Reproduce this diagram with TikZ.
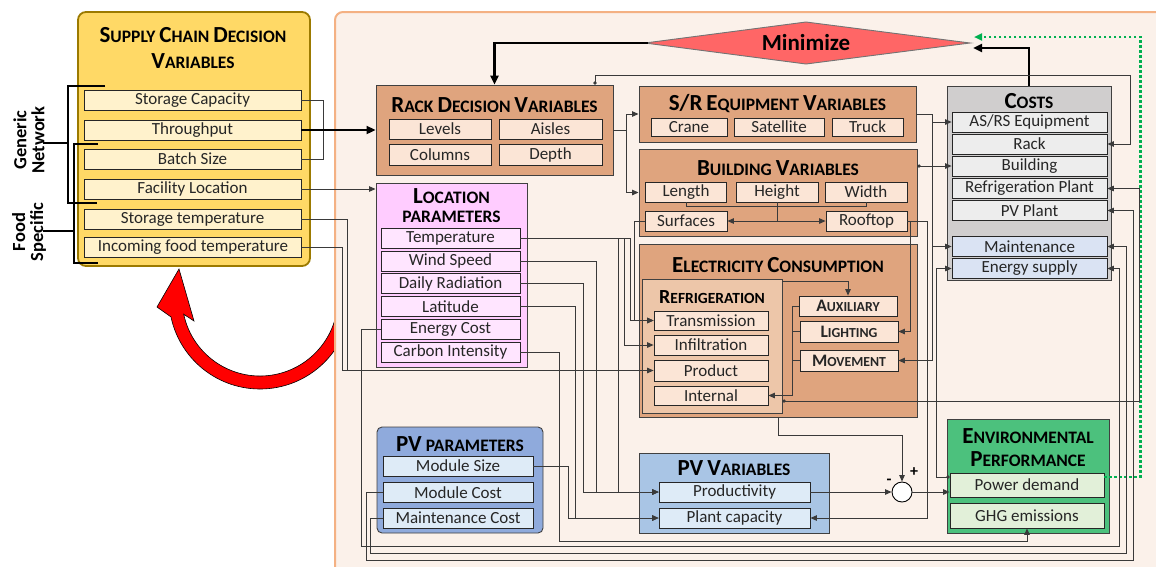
\documentclass[tikz,border=0pt]{standalone}
\usepackage{fontspec}
\setmainfont{Carlito}
\usetikzlibrary{arrows.meta,calc}

\definecolor{scfill}{HTML}{FFD966}
\definecolor{scedge}{HTML}{9C7A00}
\definecolor{scitemfill}{HTML}{FFF2CC}
\definecolor{panelfill}{HTML}{FBF1EA}
\definecolor{paneledge}{HTML}{F4B183}
\definecolor{tanfill}{HTML}{DFA47E}
\definecolor{tanlight}{HTML}{EDC6A9}
\definecolor{tanitem}{HTML}{FBE5D6}
\definecolor{costfill}{HTML}{D0CECE}
\definecolor{costitem}{HTML}{EDEDED}
\definecolor{blueitem}{HTML}{DAE3F3}
\definecolor{locfill}{HTML}{FFCCFF}
\definecolor{locitem}{HTML}{FFE5FF}
\definecolor{pvpfill}{HTML}{8FAADC}
\definecolor{pvvfill}{HTML}{A9C5E5}
\definecolor{pvitem}{HTML}{DEEBF7}
\definecolor{envfill}{HTML}{4CC17D}
\definecolor{envitem}{HTML}{E2F0D9}
\definecolor{minfill}{HTML}{FF6666}
\definecolor{dotgreen}{HTML}{00B050}
\definecolor{linegray}{HTML}{3A3A3A}

% faked small capitals: large initial, smaller remainder
\newcommand\Tsc[2]{{\fontsize{23}{23}\selectfont #1}{\fontsize{17.5}{17.5}\selectfont #2}}
\newcommand\tscS[2]{{\fontsize{20}{20}\selectfont #1}{\fontsize{15.5}{15.5}\selectfont #2}}
\newcommand\tscX[2]{{\fontsize{17.5}{17.5}\selectfont #1}{\fontsize{13.8}{13.8}\selectfont #2}}

\tikzset{
  box/.style={draw=black!75, line width=0.9pt, inner sep=0pt},
  item/.style={draw=black!85, line width=0.8pt, inner sep=0pt, minimum height=20pt,
    text=black!85, font=\fontsize{17}{17}\selectfont},
  scitem/.style={item, fill=scitemfill, minimum width=217pt},
  titem/.style={item, fill=tanitem},
  citem/.style={item, fill=costitem, minimum width=155pt},
  litem/.style={item, fill=locitem, minimum width=139pt},
  pitem/.style={item, fill=pvitem, minimum width=150pt},
  eitem/.style={item, fill=envitem, minimum width=154pt},
  ttl/.style={font=\bfseries\fontsize{17.5}{17.5}\selectfont, text=black, inner sep=0pt},
  conn/.style={draw=linegray, line width=1pt},
  tip/.style={-{Triangle[length=6.5pt,width=5.5pt]}},
  dottip/.style={{Circle[length=3.2pt]}-{Triangle[length=6.5pt,width=5.5pt]}},
  heavy/.style={draw=black, line width=2.6pt, -{Triangle[length=9pt,width=8pt]}},
  brk/.style={draw=black, line width=1.3pt},
}

\begin{document}
\begin{tikzpicture}[x=1pt,y=-1pt]
\useasboundingbox (0,0) rectangle (1156,566);
\clip (0,0) rectangle (1156,566);

% curved red arrow looping back to the supply chain block
\filldraw[fill=red, draw=black, line width=0.6pt]
  ($(260,298)+(-5:91)$) arc[start angle=-5, end angle=168, radius=91]
  -- (157,307) -- (179,269) -- (194,321)
  -- ($(260,298)+(168:78)$) arc[start angle=168, end angle=-5, radius=78] -- cycle;

% main panel
\draw[fill=panelfill, draw=paneledge, line width=2pt, rounded corners=8pt] (335,12) rectangle (1190,600);

% ---------- supply chain decision variables ----------
\node[box, draw=scedge, fill=scfill, line width=1.8pt, rounded corners=8pt,
      minimum width=232pt, minimum height=254pt] (sc) at (194,139) {};
\node[ttl] at (193,35) {\Tsc{S}{UPPLY} \Tsc{C}{HAIN} \Tsc{D}{ECISION}};
\node[ttl] at (193,61) {\Tsc{V}{ARIABLES}};
\node[scitem] (scap) at (192.5,100) {Storage Capacity};
\node[scitem] (thr)  at (192.5,130) {Throughput};
\node[scitem] (bat)  at (192.5,159) {Batch Size};
\node[scitem] (fac)  at (192.5,189) {Facility Location};
\node[scitem] (stt)  at (192.5,219) {Storage temperature};
\node[scitem] (inc)  at (193,247) {Incoming food temperature};

% group brackets
\draw[brk] (105,86) -- (68,86) -- (68,203) -- (97,203);
\draw[brk] (43,143) -- (68,143);
\draw[brk] (98,144) -- (74,144) -- (74,263) -- (98,263);
\draw[brk] (43,231) -- (74,231);
\node[rotate=90, align=center, font=\bfseries\fontsize{18.5}{18}\selectfont] at (29,140) {Generic\\Network};
\node[rotate=90, align=center, font=\bfseries\fontsize{18.5}{18}\selectfont] at (29,232) {Food\\Specific};

% ---------- objective ----------
\filldraw[fill=minfill, draw=black!55, line width=0.9pt] (645,43) -- (806,22) -- (970,43) -- (806,64) -- cycle;
\node[ttl, font=\bfseries\fontsize{23}{23}\selectfont] (minz) at (806,43) {Minimize};
\coordinate (mL) at (648,43);
\coordinate (mR) at (973,48);
\coordinate (mG) at (974,37);

% ---------- rack decision variables ----------
\node[box, fill=tanfill, minimum width=237pt, minimum height=90pt] (rack) at (494.5,130) {};
\node[ttl] at (494.5,105) {\Tsc{R}{ACK} \Tsc{D}{ECISION} \Tsc{V}{ARIABLES}};
\node[titem, minimum width=102pt] (lev) at (440,129) {Levels};
\node[titem, minimum width=103pt] (ais) at (550.5,129) {Aisles};
\node[titem, minimum width=102pt, minimum height=21pt] (col) at (440,154.5) {Columns};
\node[titem, minimum width=103pt, minimum height=21pt] (dep) at (550.5,154.5) {Depth};

% ---------- S/R equipment ----------
\node[box, fill=tanfill, minimum width=277pt, minimum height=56pt] (sr) at (777.5,114) {};
\node[ttl] at (777.5,104) {\Tsc{S/R}{} \Tsc{E}{QUIPMENT} \Tsc{V}{ARIABLES}};
\node[titem, minimum width=76pt, minimum height=18pt] (crane) at (689,127) {Crane};
\node[titem, minimum width=90pt, minimum height=18pt] (sat) at (779,127) {Satellite};
\node[titem, minimum width=71pt, minimum height=18pt] (truck) at (867.5,127) {Truck};

% ---------- building ----------
\node[box, fill=tanfill, minimum width=278pt, minimum height=87pt] (bld) at (778,192.5) {};
\node[ttl] at (778,168) {\Tsc{B}{UILDING} \Tsc{V}{ARIABLES}};
\node[titem, minimum width=81pt] (len) at (686,192) {Length};
\node[titem, minimum width=82pt] (hgt) at (777,192) {Height};
\node[titem, minimum width=82pt] (wid) at (866,192) {Width};
\node[titem, minimum width=82pt] (surf) at (686,221) {Surfaces};
\node[titem, minimum width=81pt] (roof) at (866.5,221) {Rooftop};

% ---------- electricity consumption ----------
\node[box, fill=tanfill, minimum width=278pt, minimum height=173pt] (elec) at (778,330.5) {};
\node[ttl] at (778,265) {\Tsc{E}{LECTRICITY} \Tsc{C}{ONSUMPTION}};
\node[box, fill=tanlight, minimum width=140pt, minimum height=134pt] (refr) at (712,346) {};
\node[ttl] at (712,297) {\tscS{R}{EFRIGERATION}};
\node[titem, minimum width=114pt, minimum height=19pt] (trans) at (711,320.5) {Transmission};
\node[titem, minimum width=114pt] (infl) at (711,345) {Infiltration};
\node[titem, minimum width=114pt, minimum height=21pt] (prod) at (711,370.5) {Product};
\node[titem, minimum width=114pt, minimum height=19pt] (intl) at (711,395.5) {Internal};
\node[titem, minimum width=98pt] (aux) at (848,306) {\bfseries\tscX{A}{UXILIARY}};
\node[titem, minimum width=98pt, minimum height=21pt] (light) at (849,331.5) {\bfseries\tscX{L}{IGHTING}};
\node[titem, minimum width=98pt, minimum height=21pt] (move) at (849,360.5) {\bfseries\tscX{M}{OVEMENT}};

% ---------- costs ----------
\node[box, fill=costfill, minimum width=164pt, minimum height=194pt] (costs) at (1029,183) {};
\node[ttl] at (1029,101) {\Tsc{C}{OSTS}};
\node[citem] (asrs)  at (1029.5,122) {AS/RS Equipment};
\node[citem] (rackc) at (1029.5,144) {Rack};
\node[citem] (bldc)  at (1029.5,166) {Building};
\node[citem] (refp)  at (1029.5,188.5) {Refrigeration Plant};
\node[citem] (pvp)   at (1029.5,210.5) {PV Plant};
\node[citem, fill=blueitem] (maint) at (1029.5,246.5) {Maintenance};
\node[citem, fill=blueitem] (esup)  at (1029.5,268.5) {Energy supply};

% ---------- location parameters ----------
\node[box, fill=locfill, minimum width=151pt, minimum height=184pt] (loc) at (451.5,275) {};
\node[ttl] at (451.5,196) {\Tsc{L}{OCATION}};
\node[ttl] at (451.5,217) {\Tsc{}{PARAMETERS}};
\node[litem] (temp)  at (450.5,238) {Temperature};
\node[litem] (wind)  at (450.5,261) {Wind Speed};
\node[litem] (rad)   at (450.5,283.5) {Daily Radiation};
\node[litem] (lat)   at (450.5,306.5) {Latitude};
\node[litem] (ecost) at (450.5,329) {Energy Cost};
\node[litem] (ci)    at (450.5,352) {Carbon Intensity};

% ---------- PV parameters ----------
\node[box, fill=pvpfill, rounded corners=5pt, minimum width=166pt, minimum height=106pt] (pvpar) at (460,480) {};
\node[ttl] at (460,444) {\Tsc{PV}{} \Tsc{}{PARAMETERS}};
\node[pitem] (msize) at (458,466) {Module Size};
\node[pitem] (mcost) at (458,492.5) {Module Cost};
\node[pitem] (mtc)   at (458,518) {Maintenance Cost};

% ---------- PV variables ----------
\node[box, fill=pvvfill, minimum width=190pt, minimum height=80pt] (pvv) at (734,493) {};
\node[ttl] at (734,468) {\Tsc{PV}{} \Tsc{V}{ARIABLES}};
\node[pitem, minimum width=151pt] (prodv) at (734.5,492) {Productivity};
\node[pitem, minimum width=151pt] (pcap)  at (734.5,518) {Plant capacity};

% ---------- environmental performance ----------
\node[box, fill=envfill, minimum width=162pt, minimum height=114pt] (env) at (1028,476) {};
\node[ttl] at (1028,436) {\Tsc{E}{NVIRONMENTAL}};
\node[ttl] at (1028,459) {\Tsc{P}{ERFORMANCE}};
\node[eitem, minimum height=24pt] (pd)  at (1027,485) {Power demand};
\node[eitem, minimum height=25pt] (ghg) at (1027,515.5) {GHG emissions};

% summing junction
\node[circle, draw=black, fill=white, line width=0.9pt, minimum size=20pt, inner sep=0pt] (sum) at (902,492) {};
\node[font=\bfseries\fontsize{16}{16}\selectfont] at (889,482) {-};
\node[font=\bfseries\fontsize{16}{16}\selectfont] at (914,472) {+};

% ---------- connectors ----------
\draw[heavy] (mL) -| (rack.north);
\draw[heavy] (costs.north) |- (mR);
\draw[dotgreen, line width=2.6pt, dash pattern=on 2.6pt off 2.4pt, -{Triangle[length=8pt,width=7pt]}]
  ([yshift=8pt]pd.east) -- ++(36,0) |- (mG);

\draw[conn] (scap.east) -- ++(22,0) |- (bat.east);
\draw[heavy, line width=2pt] (thr.east) -- (rack.west);
\draw[conn, tip] (fac.east) -- (loc.west |- fac.east);
\draw[conn, tip] (inc.east) -- ++(41,0) |- (prod.west);
\draw[conn] (stt.east) -- ++(46,0) -- ++(0,151);

\draw[conn, tip] (rack.east) -- ++(13,0) |- (sr.west);
\draw[conn, tip] (rack.east) ++(13,0) |- (bld.west);
\draw[conn, dottip] ([xshift=100.5pt]rack.north) -- ++(0,-9) -| ([xshift=23pt]rackc.east) -- (rackc.east);

\draw[conn, tip] (sr.east) -- ++(16,0) |- (asrs.west);
\draw[conn, tip] (sr.east) ++(16,0) |- (maint.west);
\draw[conn, tip] (sr.east) ++(16,0) |- (move.east);
\draw[conn, dottip] (bld.east |- bldc.west) -- (bldc.west);

\draw[conn] (len.south) -- ++(0,4) -| (wid.south);
\draw[conn, tip] (hgt.south) |- (surf.east);
\draw[conn, tip] (hgt.south) |- (roof.west);
\draw[conn, tip] (surf.west) -- ++(-10,0) |- (trans.west);
\draw[conn, tip] (roof.east) -- ++(3,0) |- (light.east);
\draw[conn, tip] (roof.east) -- ++(20,0) |- (pcap.east);

\draw[conn, tip] ([yshift=-3pt]refr.north east) -| (aux.north);
\draw[conn, tip] (aux.west) -- ++(-6,0) |- (intl.east);
\draw[conn] (light.west) -- ++(-7,0);
\draw[conn] (move.west) -- ++(-7,0);
\draw[conn, dottip] ([yshift=-55pt]refr.east) -- ++(357,0) |- (refp.east);

\draw[conn, tip] (elec.south) -- ++(0,18) -| (sum.north);
\draw[conn, tip] (prodv.east) -- (sum.west);
\draw[conn, tip] (sum.east) -- (pd.west |- sum.east);
\draw[conn, dottip] ([yshift=8pt]pd.west) -- ++(-13,0) |- (esup.west);

\draw[conn, tip] (temp.east) -- ++(110,0) |- (trans.west);
\draw[conn, tip] (temp.east) ++(104,0) |- (infl.west);
\draw[conn, tip] (temp.east) ++(98,0) |- (prodv.west);
\draw[conn, tip] (wind.east) -- ++(76,0) |- (prodv.west);
\draw[conn, tip] (rad.east) -- ++(63,0) |- (prodv.west);
\draw[conn, tip] (lat.east) -- ++(55,0) |- (pcap.west);
\draw[conn, tip] (msize.east) -- ++(35,0) |- (pcap.west);
\draw[conn, tip] (ecost.west) -- ++(-19,0) -- ++(0,217) -| ([xshift=12pt]esup.east) -- (esup.east);
\draw[conn, tip] (mtc.west) -- ++(-12,0) -- ++(0,35) -| ([xshift=19pt]maint.east) -- (maint.east);
\draw[conn, tip] (mcost.west) -- ++(-16,0) -- ++(0,67.5) -| ([xshift=26pt]pvp.east) -- (pvp.east);
\draw[conn, tip] (ci.east) -- ++(39,0) -- ++(0,189) -| (ghg.south);
\end{tikzpicture}
\end{document}
